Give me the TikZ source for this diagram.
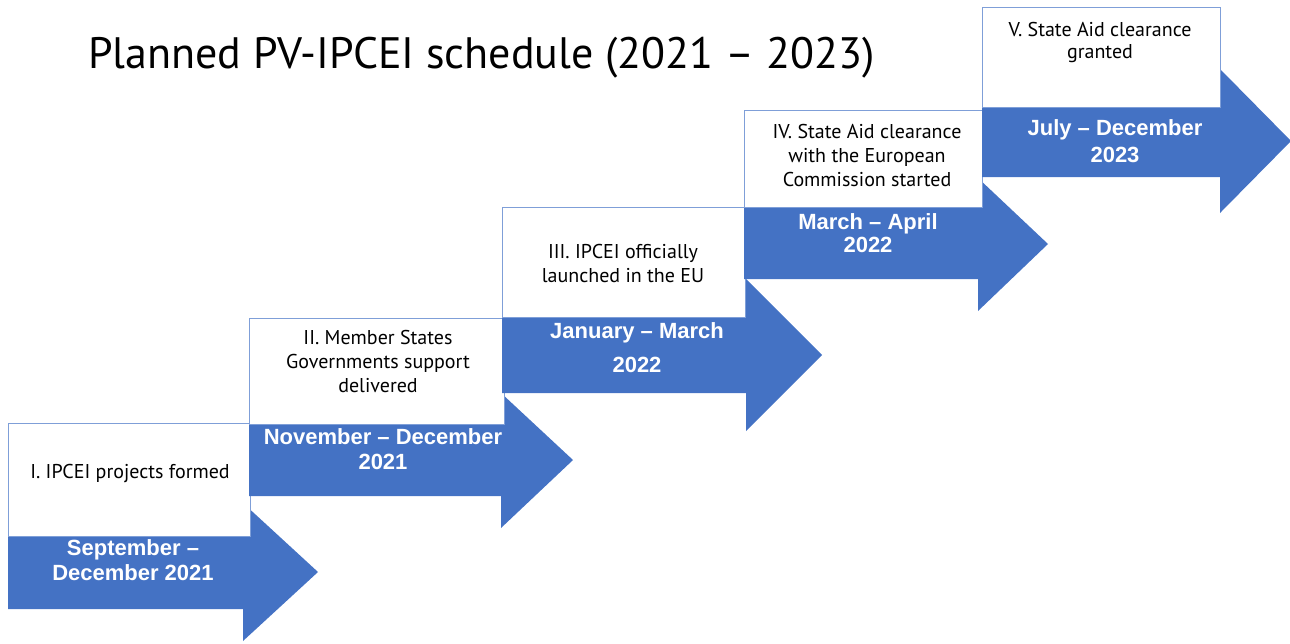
\documentclass[tikz,border=0pt]{standalone}
\usepackage{fontspec}
\setmainfont{PT Sans}
\newfontfamily\datefont{Liberation Sans}
\definecolor{arrowblue}{HTML}{4472C4}
\definecolor{boxline}{HTML}{7F9FD8}
\begin{document}
\begin{tikzpicture}[x=1pt,y=-1pt,
  arrowshape/.style={fill=arrowblue, draw=none},
  stagebox/.style={draw=boxline, line width=0.8pt, fill=white, inner sep=0, outer sep=0, anchor=north west},
  stagetext/.style={font=\fontsize{20}{24}\selectfont, align=center, text=black, inner sep=0, anchor=base},
  datetext/.style={font=\datefont\bfseries\fontsize{22}{25}\selectfont, align=center, text=white, inner sep=0, anchor=base},
]
\useasboundingbox (0,0) rectangle (1290,643);
\clip (0,0) rectangle (1290,643);

% title
\node[font=\fontsize{44}{50}\selectfont, anchor=base west, inner sep=0] (title) at (88,68) {Planned PV-IPCEI schedule (2021 – 2023)};

% arrow 1
\fill[arrowshape] (8,536) -- (243,536) -- (243,503) -- (318,572) -- (243,641) -- (243,609) -- (8,609) -- cycle;
\node[stagebox, minimum width=242pt, minimum height=113pt] (box1) at (8,423) {};
% arrow 2
\fill[arrowshape] (249,424) -- (501,424) -- (501,393) -- (573,460) -- (501,528) -- (501,496) -- (249,496) -- cycle;
\node[stagebox, minimum width=255pt, minimum height=106pt] (box2) at (249,318) {};
% arrow 3
\fill[arrowshape] (502,317) -- (746,317) -- (746,279) -- (822,355) -- (746,431) -- (746,393) -- (502,393) -- cycle;
\node[stagebox, minimum width=243pt, minimum height=110pt] (box3) at (502,207) {};
% arrow 4
\fill[arrowshape] (744,207) -- (978,207) -- (978,178) -- (1048,244) -- (978,311) -- (978,279) -- (744,279) -- cycle;
\node[stagebox, minimum width=238pt, minimum height=97pt] (box4) at (744,110) {};
% arrow 5
\fill[arrowshape] (982,107) -- (1220,107) -- (1220,69) -- (1291,141) -- (1220,213) -- (1220,177) -- (982,177) -- cycle;
\node[stagebox, minimum width=238pt, minimum height=100pt] (box5) at (982,7) {};

% stage texts (anchor = baseline of last line)
\node[stagetext] (stage1) at (130,478) {I. IPCEI projects formed};
\node[stagetext] (stage2) at (378,392) {II. Member States\\Governments support\\delivered};
\node[stagetext] (stage3) at (623,282) {III. IPCEI officially\\launched in the EU};
\node[stagetext] (stage4) at (867,186) {IV. State Aid clearance\\with the European\\Commission started};
\node[stagetext, font=\fontsize{20}{22}\selectfont] (stage5) at (1100,58) {V. State Aid clearance\\granted};

% date texts (anchor = baseline of last line)
\node[datetext] (date1) at (133,580) {September –\\December 2021};
\node[datetext] (date2) at (383,469) {November – December\\2021};
\node[datetext, font=\datefont\bfseries\fontsize{22}{34}\selectfont] (date3) at (637,372) {January – March\\2022};
\node[datetext, font=\datefont\bfseries\fontsize{22}{23}\selectfont] (date4) at (868,252) {March – April\\2022};
\node[datetext, font=\datefont\bfseries\fontsize{22}{27}\selectfont] (date5) at (1115,162) {July – December\\2023};
\end{tikzpicture}
\end{document}
